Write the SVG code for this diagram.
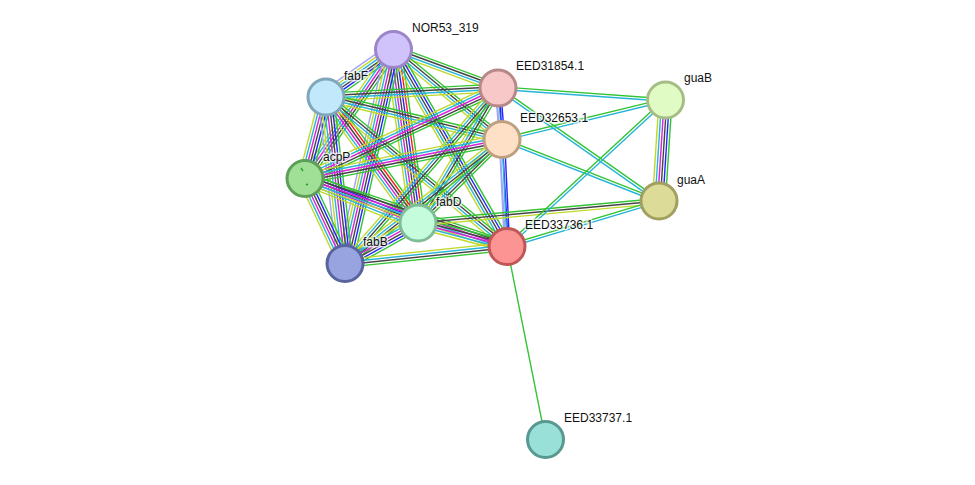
<svg xmlns="http://www.w3.org/2000/svg" xmlns:xlink="http://www.w3.org/1999/xlink" width="975" height="485" viewBox="0 0 975 485">
<style>
.e path{fill:none;stroke-width:1.4}
.g{stroke:#33c433}.r{stroke:#ff1a1a}.b{stroke:#2424ff}.k{stroke:#444}.m{stroke:#d822d8}.c{stroke:#27b4d8}.y{stroke:#c0d82a}.h{stroke:#a4a4f4}
.n{stroke-width:3}
text{font-family:"Liberation Sans",Arial,sans-serif;font-size:12px;fill:#111;stroke:#fff;stroke-width:3;stroke-opacity:0.7;paint-order:stroke;stroke-linejoin:round}
</style>
<defs>
<g id="b_g" class="e"><path class="g" d="M0 0H1"/></g>
<g id="b_gc" class="e"><path class="g" d="M0 -1.3H1"/><path class="c" d="M0 1.3H1"/></g>
<g id="b_bh" class="e"><path class="b" d="M0 -1.3H1"/><path class="h" d="M0 1.3H1"/></g>
<g id="b_gky" class="e"><path class="g" d="M0 -2.6H1"/><path class="k" d="M0 0H1"/><path class="y" d="M0 2.6H1"/></g>
<g id="b_bch" class="e"><path class="b" d="M0 -2.6H1"/><path class="c" d="M0 0H1"/><path class="h" d="M0 2.6H1"/></g>
<g id="b_gkcy" class="e"><path class="g" d="M0 -3.9H1"/><path class="k" d="M0 -1.3H1"/><path class="c" d="M0 1.3H1"/><path class="y" d="M0 3.9H1"/></g>
<g id="b_gbkcy" class="e"><path class="g" d="M0 -5.2H1"/><path class="b" d="M0 -2.6H1"/><path class="k" d="M0 0H1"/><path class="c" d="M0 2.6H1"/><path class="y" d="M0 5.2H1"/></g>
<g id="b_gkmcy" class="e"><path class="g" d="M0 -5.2H1"/><path class="k" d="M0 -2.6H1"/><path class="m" d="M0 0H1"/><path class="c" d="M0 2.6H1"/><path class="y" d="M0 5.2H1"/></g>
<g id="b_gbkcyh" class="e"><path class="g" d="M0 -6.5H1"/><path class="b" d="M0 -3.9H1"/><path class="k" d="M0 -1.3H1"/><path class="c" d="M0 1.3H1"/><path class="y" d="M0 3.9H1"/><path class="h" d="M0 6.5H1"/></g>
<g id="b_gbkmcy" class="e"><path class="g" d="M0 -6.5H1"/><path class="b" d="M0 -3.9H1"/><path class="k" d="M0 -1.3H1"/><path class="m" d="M0 1.3H1"/><path class="c" d="M0 3.9H1"/><path class="y" d="M0 6.5H1"/></g>
<g id="b_grkmcy" class="e"><path class="g" d="M0 -6.5H1"/><path class="r" d="M0 -3.9H1"/><path class="k" d="M0 -1.3H1"/><path class="m" d="M0 1.3H1"/><path class="c" d="M0 3.9H1"/><path class="y" d="M0 6.5H1"/></g>
<g id="b_grbkmcy" class="e"><path class="g" d="M0 -7.8H1"/><path class="r" d="M0 -5.2H1"/><path class="b" d="M0 -2.6H1"/><path class="k" d="M0 0H1"/><path class="m" d="M0 2.6H1"/><path class="c" d="M0 5.2H1"/><path class="y" d="M0 7.8H1"/></g>
<g id="b_gbkmcyh" class="e"><path class="g" d="M0 -7.8H1"/><path class="b" d="M0 -5.2H1"/><path class="k" d="M0 -2.6H1"/><path class="m" d="M0 0H1"/><path class="c" d="M0 2.6H1"/><path class="y" d="M0 5.2H1"/><path class="h" d="M0 7.8H1"/></g>
</defs>
<rect width="975" height="485" fill="#fff"/>
<g id="connectors">
<use href="#b_gbkcyh" transform="translate(393.5 49.5) rotate(144.9) scale(82.5 1)"/>
<use href="#b_gkcy" transform="translate(393.5 49.5) rotate(20.2) scale(111.4 1)"/>
<use href="#b_gkcy" transform="translate(393.5 49.5) rotate(39.7) scale(141 1)"/>
<use href="#b_gkmcy" transform="translate(393.5 49.5) rotate(124.5) scale(156.4 1)"/>
<use href="#b_grbkmcy" transform="translate(393.5 49.5) rotate(82) scale(175.2 1)"/>
<use href="#b_gbkcy" transform="translate(393.5 49.5) rotate(60.05) scale(227.4 1)"/>
<use href="#b_gbkmcyh" transform="translate(393.5 49.5) rotate(102.8) scale(219.4 1)"/>
<use href="#b_gkcy" transform="translate(326 97) rotate(-3) scale(172.2 1)"/>
<use href="#b_gkcy" transform="translate(326 97) rotate(13.6) scale(181.1 1)"/>
<use href="#b_gbkmcy" transform="translate(326 97) rotate(104.45) scale(84.2 1)"/>
<use href="#b_grkmcy" transform="translate(326 97) rotate(53.9) scale(156 1)"/>
<use href="#b_gkcy" transform="translate(326 97) rotate(39.55) scale(234.8 1)"/>
<use href="#b_gbkmcyh" transform="translate(326 97) rotate(83.5) scale(167.6 1)"/>
<use href="#b_bch" transform="translate(498 88) rotate(85.6) scale(51.7 1)"/>
<use href="#b_gkmcy" transform="translate(498 88) rotate(154.9) scale(213.2 1)"/>
<use href="#b_gkcy" transform="translate(498 88) rotate(120.65) scale(156.9 1)"/>
<use href="#b_bh" transform="translate(498 88) rotate(86.75) scale(158.8 1)"/>
<use href="#b_gkcy" transform="translate(498 88) rotate(131.1) scale(232.8 1)"/>
<use href="#b_gc" transform="translate(498 88) rotate(4.1) scale(167.9 1)"/>
<use href="#b_gc" transform="translate(498 88) rotate(35.06) scale(196.7 1)"/>
<use href="#b_gkmcy" transform="translate(502 139.5) rotate(168.8) scale(200.8 1)"/>
<use href="#b_gkcy" transform="translate(502 139.5) rotate(135.2) scale(118.4 1)"/>
<use href="#b_bch" transform="translate(502 139.5) rotate(87.3) scale(107.1 1)"/>
<use href="#b_gkcy" transform="translate(502 139.5) rotate(141.7) scale(200.1 1)"/>
<use href="#b_gc" transform="translate(502 139.5) rotate(-13.6) scale(168.2 1)"/>
<use href="#b_gc" transform="translate(502 139.5) rotate(21.4) scale(168.6 1)"/>
<use href="#b_gbkmcy" transform="translate(305 178.5) rotate(21.5) scale(121.4 1)"/>
<use href="#b_gkmcy" transform="translate(305 178.5) rotate(18.6) scale(213.1 1)"/>
<use href="#b_gbkmcy" transform="translate(305 178.5) rotate(64.8) scale(93.9 1)"/>
<use href="#b_gkmcy" transform="translate(418 223) rotate(14.8) scale(92 1)"/>
<use href="#b_gbkmcy" transform="translate(418 223) rotate(151) scale(83.5 1)"/>
<use href="#b_gky" transform="translate(418 223) rotate(-5.2) scale(242 1)"/>
<use href="#b_gkcy" transform="translate(507 246.5) rotate(174) scale(162.9 1)"/>
<use href="#b_gc" transform="translate(507 246.5) rotate(-42.75) scale(215.8 1)"/>
<use href="#b_gc" transform="translate(507 246.5) rotate(-16.7) scale(158.7 1)"/>
<use href="#b_g" transform="translate(507 246.5) rotate(78.7) scale(196.8 1)"/>
<use href="#b_gbkmcy" transform="translate(665.5 100) rotate(93.7) scale(101.2 1)"/>
</g>
<g id="node-NOR53_319"><circle class="n" cx="393.5" cy="49.5" r="18" fill="#d0c2fa" stroke="#9a86c8"/><text x="412" y="32">NOR53_319</text></g>
<g id="node-EED31854.1"><circle class="n" cx="498" cy="88" r="18" fill="#f8c8c8" stroke="#b88888"/><text x="516" y="70">EED31854.1</text></g>
<g id="node-fabF"><circle class="n" cx="326" cy="97" r="18" fill="#c2e8fc" stroke="#80a6bc"/><text x="344" y="80">fabF</text></g>
<g id="node-guaB"><circle class="n" cx="665.5" cy="100" r="18" fill="#e0fcc4" stroke="#a6be86"/><text x="684" y="82">guaB</text></g>
<g id="node-EED32653.1"><circle class="n" cx="502" cy="139.5" r="18" fill="#fde0c6" stroke="#bea080"/><text x="520" y="122">EED32653.1</text></g>
<g id="node-acpP"><circle class="n" cx="305" cy="178.5" r="18" fill="#a0e096" stroke="#5e9e58"/><path d="M301 168l2 3M306 185l2-1" stroke="#30a030" stroke-width="1.5" fill="none"/><text x="323" y="161">acpP</text></g>
<g id="node-guaA"><circle class="n" cx="659" cy="201" r="18" fill="#dcdc98" stroke="#a0a060"/><text x="677" y="184">guaA</text></g>
<g id="node-fabD"><circle class="n" cx="418" cy="223" r="18" fill="#c4fcdc" stroke="#80bc96"/><text x="436" y="206">fabD</text></g>
<g id="node-EED33736.1"><circle class="n" cx="507" cy="246.5" r="18" fill="#fc9494" stroke="#c05656"/><text x="525" y="229">EED33736.1</text></g>
<g id="node-fabB"><circle class="n" cx="345" cy="263.5" r="18" fill="#98a4e0" stroke="#58649e"/><text x="363" y="246">fabB</text></g>
<g id="node-EED33737.1"><circle class="n" cx="545.5" cy="439.5" r="18" fill="#98e0d8" stroke="#589890"/><text x="564" y="422">EED33737.1</text></g>
</svg>
